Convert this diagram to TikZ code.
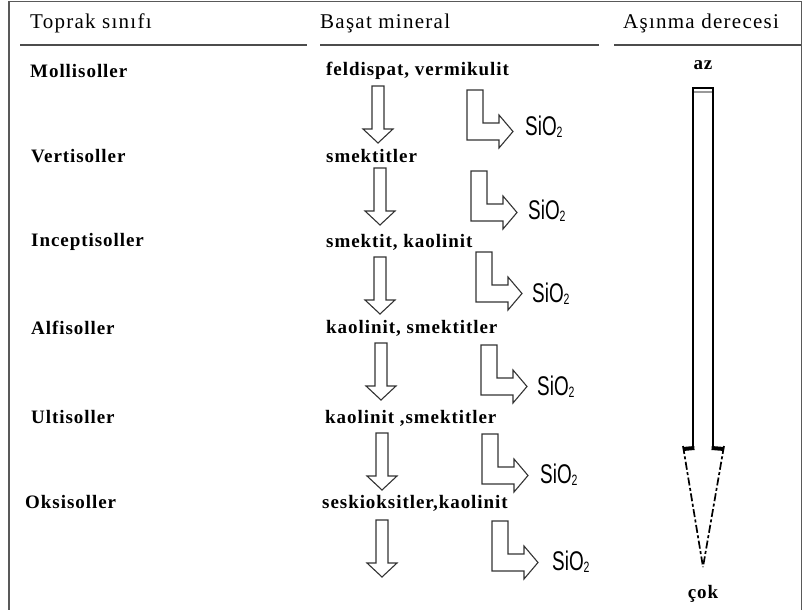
\documentclass[tikz,border=0pt]{standalone}
\usepackage{fontspec}
\setmainfont{Liberation Serif}
\newfontfamily\spacedfont[LetterSpace=5]{Liberation Serif}
\newfontfamily\hdrspaced[LetterSpace=6]{Liberation Serif}
\newfontfamily\siofont{Liberation Sans}
\newcommand{\siotext}{\scalebox{0.7}[1]{\siofont\fontsize{27}{27}\selectfont SiO\raisebox{-2pt}{\fontsize{15}{15}\selectfont 2}}}
\begin{document}
\begin{tikzpicture}[x=1pt,y=-1pt,
  hdr/.style={anchor=west,inner sep=0pt,font=\hdrspaced\fontsize{21}{23}\selectfont},
  rowtxt/.style={anchor=west,inner sep=0pt,font=\spacedfont\bfseries\fontsize{19}{21}\selectfont},
  degtxt/.style={anchor=center,inner sep=0pt,font=\spacedfont\bfseries\fontsize{19}{21}\selectfont},
  siolbl/.style={anchor=west,inner sep=0pt},
  frameline/.style={draw=black!65,line width=1.6pt},
  rule/.style={draw=black!70,line width=2pt},
  blk/.style={draw=black!80,line width=1.1pt,fill=white,line join=miter},
  dashedge/.style={draw=black,line width=1.7pt,dash pattern=on 8pt off 2.5pt on 3pt off 2.5pt},
  downarr/.pic={\draw[blk] (-6,0) -- (6,0) -- (6,43) -- (15,43) -- (0,57) -- (-15,43) -- (-6,43) -- cycle;},
  larr/.pic={\draw[blk] (0,0) -- (16,0) -- (16,33) -- (32,33) -- (32,25) -- (46,41.5) -- (32,58) -- (32,50) -- (0,50) -- cycle;}
]
\useasboundingbox (0,0) rectangle (803,610);
% frame
\coordinate (fbl) at (9,610);
\coordinate (ftl) at (9,1.5);
\coordinate (ftr) at (801.5,1.5);
\coordinate (fbr) at (801.5,610);
\draw[frameline] (fbl) -- (ftl) -- (ftr) -- (fbr);
% headers
\node[hdr] (h1) at (30,23) {Toprak sınıfı};
\node[hdr] (h2) at (320,23) {Başat mineral};
\node[hdr] (h3) at (623,23) {Aşınma derecesi};
\coordinate (r1a) at (20,45); \coordinate (r1b) at (307,45);
\coordinate (r2a) at (320,45); \coordinate (r2b) at (599,45);
\coordinate (r3a) at (614,45); \coordinate (r3b) at (801,45);
\draw[rule] (r1a) -- (r1b);
\draw[rule] (r2a) -- (r2b);
\draw[rule] (r3a) -- (r3b);
% soil classes
\node[rowtxt] (s1) at (30,71) {Mollisoller};
\node[rowtxt] (s2) at (31,156) {Vertisoller};
\node[rowtxt] (s3) at (31,242) {Inceptisoller};
\node[rowtxt] (s4) at (31,328) {Alfisoller};
\node[rowtxt] (s5) at (31,417) {Ultisoller};
\node[rowtxt] (s6) at (25,502) {Oksisoller};
% minerals
\node[rowtxt] (m1) at (326,71) {feldispat, vermikulit};
\node[rowtxt] (m2) at (326,156) {smektitler};
\node[rowtxt] (m3) at (326,242) {smektit, kaolinit};
\node[rowtxt] (m4) at (326,328) {kaolinit, smektitler};
\node[rowtxt] (m5) at (325,418) {kaolinit ,smektitler};
\node[rowtxt] (m6) at (322,503) {seskioksitler,kaolinit};
% down arrows
\pic (d1) at (378,86) {downarr};
\pic (d2) at (380,168) {downarr};
\pic (d3) at (380,257) {downarr};
\pic (d4) at (381,343) {downarr};
\pic (d5) at (382,433) {downarr};
\pic (d6) at (382,520) {downarr};
% L arrows and SiO2
\pic (l1) at (467,90) {larr};
\pic (l2) at (471,171) {larr};
\pic (l3) at (476,252) {larr};
\pic (l4) at (481,345) {larr};
\pic (l5) at (482,434) {larr};
\pic (l6) at (492,521) {larr};
\node[siolbl] (o1) at (525,127) {\siotext};
\node[siolbl] (o2) at (528,211) {\siotext};
\node[siolbl] (o3) at (532,294) {\siotext};
\node[siolbl] (o4) at (537,387) {\siotext};
\node[siolbl] (o5) at (540,475) {\siotext};
\node[siolbl] (o6) at (552,562) {\siotext};
% weathering degree arrow
\node[degtxt] (az) at (703,65) {az};
\node[degtxt] (cok) at (703,594) {çok};
\coordinate (bl) at (693,448);
\coordinate (tl) at (693,88);
\coordinate (tr) at (713,88);
\coordinate (br) at (713,448);
\coordinate (sl) at (683,449);
\coordinate (sr) at (724,449);
\coordinate (tip) at (703,567);
\draw[black!40,line width=2pt] (693,91.5) -- (713,91.5);
\draw[black,line width=2.8pt,line join=miter] (bl) -- (tl) -- (tr) -- (br);
\draw[black,line width=4pt] (sl) -- ([xshift=1.4pt]bl);
\draw[black,line width=4pt] (sr) -- ([xshift=-1.4pt]br);
\draw[dashedge] ([yshift=3pt]sl) -- (tip);
\draw[dashedge] ([yshift=3pt]sr) -- (tip);
\end{tikzpicture}
\end{document}
